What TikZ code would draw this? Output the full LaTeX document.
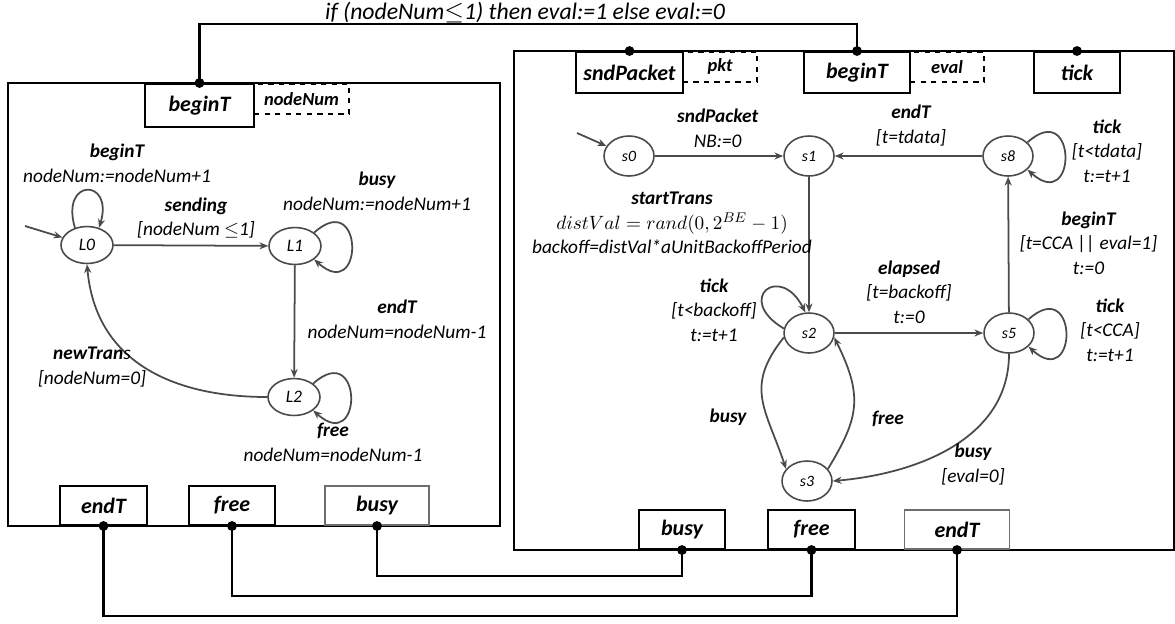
\documentclass[tikz,border=0pt]{standalone}
\usepackage{fontspec}
\setmainfont{Carlito}
\usepackage{tikz}
\usetikzlibrary{calc,shapes.geometric,arrows.meta}
\usepackage{xcolor}
\definecolor{edge_gray}{HTML}{4A4A4A}
\definecolor{port_gray}{HTML}{6E6E6E}
\newcommand{\ev}[1]{\textbf{#1}}

\begin{document}
\begin{tikzpicture}[x=0.02cm, y=0.02cm,
	>={Stealth[length=5pt,width=4pt]},
	lbl/.style={font=\itshape\fontsize{11}{14}\selectfont, align=center, inner sep=0pt},
	lstate/.style={ellipse, draw=edge_gray, line width=0.9pt, minimum width=1.04cm, minimum height=0.74cm, inner sep=0pt, font=\itshape\fontsize{10}{12}\selectfont},
	sstate/.style={lstate, minimum width=1.0cm, minimum height=0.8cm, font=\itshape\fontsize{9}{11}\selectfont},
	port/.style={draw, line width=1pt, fill=white, minimum height=0.82cm, inner sep=0pt, font=\bfseries\itshape\fontsize{12.5}{14}\selectfont},
	varbox/.style={draw, dashed, line width=1pt, fill=white, minimum height=0.6cm, inner sep=0pt, font=\bfseries\itshape\fontsize{10.5}{12}\selectfont},
	trans/.style={edge_gray, line width=1pt, ->},
	wire/.style={line width=1.4pt}]
	\useasboundingbox (0,0) rectangle (1175,-623);
	% the two automata
	\draw[line width=1pt] (8,-83) rectangle (500,-526);
	\draw[line width=1pt] (514,-51) rectangle (1174,-550);
	% ports, left
	\node[varbox, minimum width=1.9cm, anchor=north] (lnodeNum) at (301.5,-83) {nodeNum};
	\node[port, minimum width=2.18cm, minimum height=0.86cm, anchor=north] (lbeginT) at (199.5,-83) {beginT};
	\node[port, minimum width=1.74cm, minimum height=0.78cm, anchor=south] (lendT) at (103.5,-526) {endT};
	\node[port, minimum width=1.72cm, minimum height=0.78cm, anchor=south] (lfree) at (232,-526) {free};
	\node[port, draw=port_gray, minimum width=2.08cm, minimum height=0.78cm, anchor=south] (lbusy) at (377,-526) {busy};
	% ports, right
	\node[varbox, minimum width=1.49cm, anchor=north] (rpkt) at (720,-51) {pkt};
	\node[varbox, minimum width=1.48cm, anchor=north] (reval) at (947,-51) {eval};
	\node[port, minimum width=2.14cm, anchor=north] (rsndPacket) at (629.5,-51) {sndPacket};
	\node[port, minimum width=2.12cm, anchor=north] (rbeginT) at (857,-51) {beginT};
	\node[port, minimum width=1.73cm, anchor=north] (rtick) at (1077,-51) {tick};
	\node[port, minimum width=1.73cm, minimum height=0.78cm, anchor=south] (rbusy) at (682,-550) {busy};
	\node[port, minimum width=1.74cm, minimum height=0.78cm, anchor=south] (rfree) at (811.5,-550) {free};
	\node[port, draw=port_gray, minimum width=2.1cm, minimum height=0.78cm, anchor=south] (rendT) at (957,-550) {endT};
	% wires between the automata
	\coordinate (wtop) at (0,-24);
	\draw[wire] (lbeginT.north) -- (lbeginT.north |- wtop) -| (rbeginT.north);
	\node[lbl, font=\itshape\fontsize{13.5}{16}\selectfont, anchor=base] (guard) at (525,-19) {if (nodeNum$\leq$1) then eval:=1 else eval:=0};
	\draw[wire] (lbusy.south) -- ++(0,-50) -| (rbusy.south);
	\draw[wire] (lfree.south) -- ++(0,-70) -| (rfree.south);
	\draw[wire] (lendT.south) -- ++(0,-90) -| (rendT.south);
	\foreach \p in {lbeginT.north, rsndPacket.north, rbeginT.north, rtick.north, lendT.south, lfree.south, lbusy.south, rbusy.south, rfree.south, rendT.south}
		\fill (\p) circle(2.8pt);
	% left automaton
	\node[lstate] (L0) at (87,-245) {L0};
	\node[lstate] (L1) at (295,-246) {L1};
	\node[lstate] (L2) at (294,-397) {L2};
	\coordinate (iL) at (25,-226);
	\draw[trans] (iL) -- (L0);
	\draw[trans] (L0.125) .. controls +(-15,50) and +(15,50) .. (L0.55);
	\draw[trans] (L0) -- (L1);
	\draw[trans] (L1.35) .. controls +(50,45) and +(50,-45) .. (L1.-35);
	\draw[trans] (L1) -- (L2);
	\draw[trans] (L2.35) .. controls +(50,45) and +(50,-45) .. (L2.-35);
	\draw[trans] (L2.west) to[out=180, in=-85, looseness=1.1] (L0.south);
	\node[lbl] (tL0) at (117,-163.5) {\ev{beginT}\\nodeNum:=nodeNum+1};
	\node[lbl] (tL01) at (196,-218) {\ev{sending}\\{}[nodeNum $\leq$1]};
	\node[lbl] (tL1) at (377,-191) {\ev{busy}\\nodeNum:=nodeNum+1};
	\node[lbl] (tL12) at (397,-319.5) {\ev{endT}\\nodeNum=nodeNum-1};
	\node[lbl] (tL20) at (92,-367) {\ev{newTran}s\\{}[nodeNum=0]};
	\node[lbl] (tL2) at (333,-442.5) {\ev{free}\\nodeNum=nodeNum-1};
	% right automaton
	\node[sstate] (s0) at (629,-156) {s0};
	\node[sstate] (s1) at (809,-156) {s1};
	\node[sstate] (s8) at (1008,-156) {s8};
	\node[sstate] (s2) at (809,-333) {s2};
	\node[sstate] (s5) at (1009,-333) {s5};
	\node[sstate] (s3) at (807,-481) {s3};
	\coordinate (is) at (577,-133);
	\draw[trans] (is) -- (s0);
	\draw[trans] (s0) -- (s1);
	\draw[trans] (s8) -- (s1);
	\draw[trans] (s8.35) .. controls +(50,45) and +(50,-45) .. (s8.-35);
	\draw[trans] (s1) -- (s2);
	\draw[trans] (s2.170) .. controls +(-50,30) and +(-25,50) .. (s2.100);
	\draw[trans] (s2) -- (s5);
	\draw[trans] (s5.35) .. controls +(50,45) and +(50,-45) .. (s5.-35);
	\draw[trans] (s5) -- (s8);
	\draw[trans] (s2.190) .. controls +(-40,-50) and +(-20,60) .. (s3.150);
	\draw[trans] (s3.30) .. controls +(30,50) and +(30,-60) .. (s2.-10);
	\draw[trans] (s5.south) to[out=-90, in=5] (s3.east);
	\node[lbl] (ts01) at (717.7,-128) {\ev{sndPacket}\\NB:=0};
	\node[lbl] (ts81) at (911,-125.5) {\ev{endT}\\{}[t=tdata]};
	\node[lbl] (ts8) at (1107,-151) {\ev{tick}\\{}[t<tdata]\\t:=t+1};
	\node[lbl] (ts12) at (672,-223) {\ev{startTrans}\\$distVal = rand(0,2^{BE}-1)$\\backoff=distVal*aUnitBackoffPeriod};
	\node[lbl] (ts58) at (1088.5,-243) {\ev{beginT}\\{}[t=CCA || eval=1]\\t:=0};
	\node[lbl] (ts25) at (909,-292) {\ev{elapsed}\\{}[t=backoff]\\t:=0};
	\node[lbl] (ts2) at (714,-310) {\ev{tick}\\{}[t<backoff]\\t:=t+1};
	\node[lbl] (ts5) at (1110,-330) {\ev{tick}\\{}[t<CCA]\\t:=t+1};
	\node[lbl] (ts23) at (728,-417) {\ev{busy}};
	\node[lbl] (ts32) at (888,-419) {\ev{free}};
	\node[lbl] (ts53) at (973,-464.5) {\ev{busy}\\{}[eval=0]};
\end{tikzpicture}
\end{document}
